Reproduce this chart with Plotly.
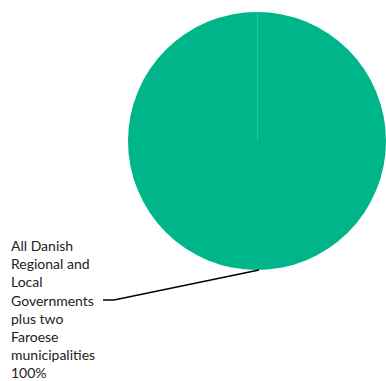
import plotly.graph_objects as go

labels = ["All Danish Regional and Local Governments plus two Faroese municipalities"]
values = [100]
label_lines = ["All Danish", "Regional and", "Local", "Governments", "plus two", "Faroese", "municipalities", "100%"]

W, H = 386, 381
fig = go.Figure(go.Pie(
    labels=labels, values=values,
    marker=dict(colors=["#00B58A"], line=dict(color="white", width=0)),
    textinfo="none", hoverinfo="label+percent", sort=False,
    domain=dict(x=[128 / W, 1.0], y=[1 - 270 / H, 1 - 12 / H]),
    showlegend=False,
))

# faint slice boundary from top to centre
fig.add_shape(type="line", xref="paper", yref="paper",
              x0=257.5 / W, y0=1 - 12 / H, x1=257.5 / W, y1=1 - 141 / H,
              line=dict(color="rgba(255,255,255,0.18)", width=1))

fig.add_annotation(
    text="<br>".join(label_lines),
    x=9 / W, y=1 - 235 / H, xref="paper", yref="paper",
    xanchor="left", yanchor="top", align="left", showarrow=False,
    font=dict(family="Lato", size=14, color="#222222"),
)
# leader line
fig.add_shape(type="line", xref="paper", yref="paper",
              x0=259 / W, y0=1 - 270 / H, x1=114 / W, y1=1 - 300 / H,
              line=dict(color="black", width=1.5))
fig.add_shape(type="line", xref="paper", yref="paper",
              x0=114 / W, y0=1 - 300 / H, x1=103 / W, y1=1 - 300 / H,
              line=dict(color="black", width=1.5))

fig.update_layout(width=W, height=H, margin=dict(l=0, r=0, t=0, b=0),
                  paper_bgcolor="white", plot_bgcolor="white")
fig.write_html("out.html")
